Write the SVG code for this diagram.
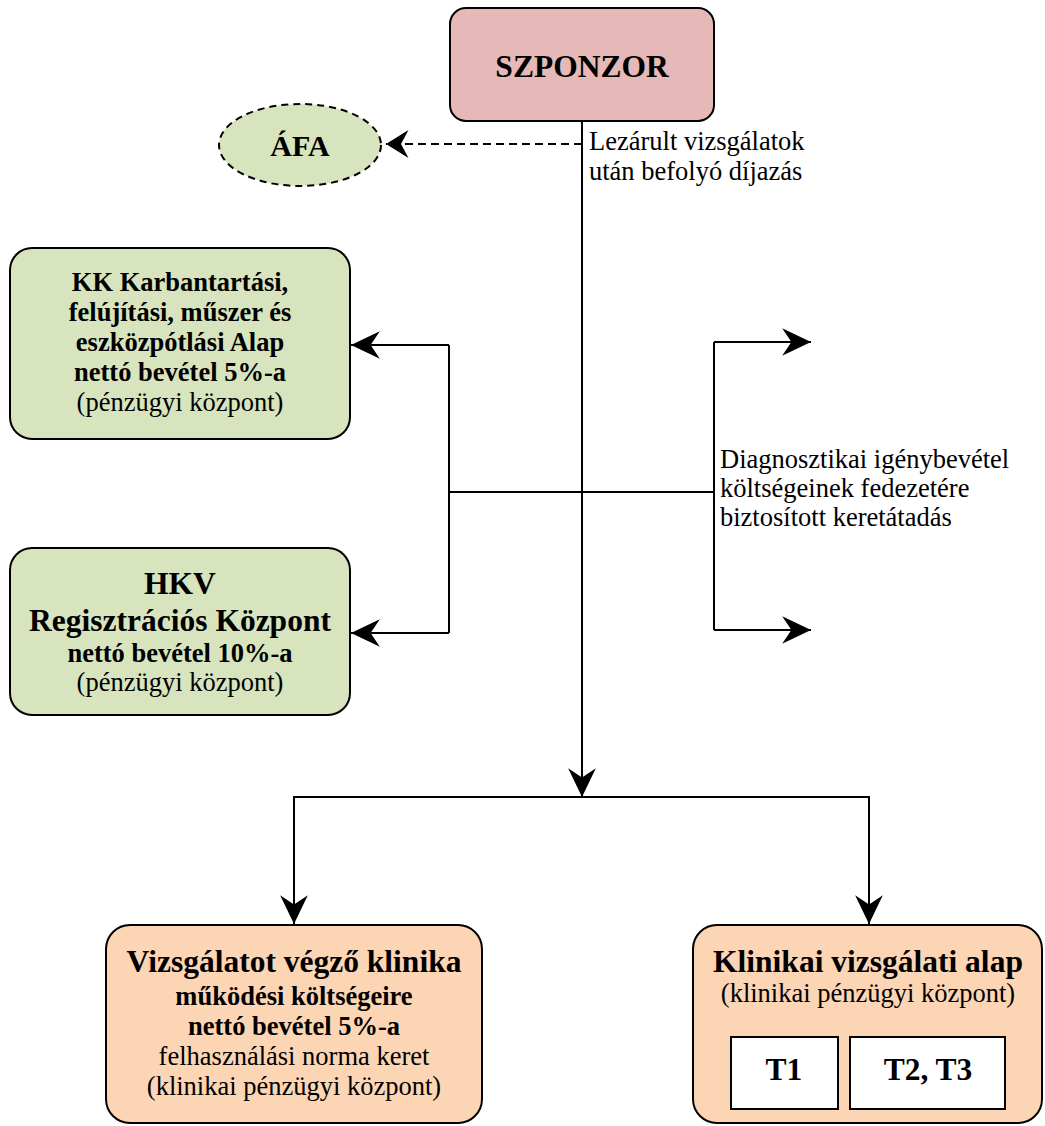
<svg xmlns="http://www.w3.org/2000/svg" width="1045" height="1126" viewBox="0 0 1045 1126">
<style>
.box{stroke:#000;stroke-width:2}
.pink{fill:#e6b9b8}
.green{fill:#d7e4bd}
.peach{fill:#fcd5b5}
.white{fill:#fff}
text{font-family:"Liberation Serif","Times New Roman",serif;fill:#000}
.c{text-anchor:middle}
.b{font-weight:bold}
.n{font-size:26.5px}
.l{font-size:31.5px}
.conn{fill:none;stroke:#000;stroke-width:2}
</style>
<defs>
<marker id="arr" markerUnits="userSpaceOnUse" markerWidth="30" markerHeight="30" viewBox="0 0 26 26" refX="25" refY="13" orient="auto">
<path d="M25,13 L0,1 L8,13 L0,25 Z" fill="#000"/>
</marker>
<marker id="arrs" markerUnits="userSpaceOnUse" markerWidth="30" markerHeight="30" viewBox="0 0 26 28" refX="21" refY="14" orient="auto">
<path d="M21,14 L0,1 L7,14 L0,27 Z" fill="#000"/>
</marker>
</defs>

<g id="connectors">
<path class="conn" d="M582,121 V797" marker-end="url(#arr)"/>
<path class="conn" d="M582,144 H386" stroke-dasharray="8,5" marker-end="url(#arrs)"/>
<path class="conn" d="M294,924 V797 H869 V924" />
<path class="conn" d="M294,797 V924" marker-end="url(#arr)"/>
<path class="conn" d="M869,797 V924" marker-end="url(#arr)"/>
<path class="conn" d="M449,492 H714"/>
<path class="conn" d="M449,345 V633"/>
<path class="conn" d="M449,345 H351" marker-end="url(#arr)"/>
<path class="conn" d="M449,633 H351" marker-end="url(#arr)"/>
<path class="conn" d="M714,342 V630"/>
<path class="conn" d="M714,342 H811" marker-end="url(#arr)"/>
<path class="conn" d="M714,630 H811" marker-end="url(#arr)"/>
<text class="n" x="589" y="150">Lezárult vizsgálatok</text>
<text class="n" x="589" y="180">után befolyó díjazás</text>
<text class="n" x="720" y="468">Diagnosztikai igénybevétel</text>
<text class="n" x="720" y="497">költségeinek fedezetére</text>
<text class="n" x="720" y="526">biztosított keretátadás</text>
</g>

<g id="szponzor">
<rect class="box pink" x="450" y="8" width="264" height="113" rx="16"/>
<text class="c b l" x="582" y="77">SZPONZOR</text>
</g>

<g id="afa">
<ellipse class="green" cx="300" cy="145" rx="81" ry="41" stroke="#000" stroke-width="2" stroke-dasharray="7,5"/>
<text class="c b" x="300" y="156" font-size="30">ÁFA</text>
</g>

<g id="kk-alap">
<rect class="box green" x="10" y="248" width="340" height="191" rx="22"/>
<text class="c b n" x="180" y="291">KK Karbantartási,</text>
<text class="c b n" x="180" y="321">felújítási, műszer és</text>
<text class="c b n" x="180" y="351">eszközpótlási Alap</text>
<text class="c b n" x="180" y="381">nettó bevétel 5%-a</text>
<text class="c n" x="180" y="411">(pénzügyi központ)</text>
</g>

<g id="hkv">
<rect class="box green" x="10" y="548" width="340" height="167" rx="22"/>
<text class="c b l" x="180" y="594">HKV</text>
<text class="c b l" x="180" y="631">Regisztrációs Központ</text>
<text class="c b n" x="180" y="662">nettó bevétel 10%-a</text>
<text class="c n" x="180" y="691">(pénzügyi központ)</text>
</g>

<g id="klinika">
<rect class="box peach" x="106" y="925" width="376" height="198" rx="24"/>
<text class="c b l" x="294" y="972">Vizsgálatot végző klinika</text>
<text class="c b n" x="294" y="1005">működési költségeire</text>
<text class="c b n" x="294" y="1035">nettó bevétel 5%-a</text>
<text class="c n" x="294" y="1065">felhasználási norma keret</text>
<text class="c n" x="294" y="1095">(klinikai pénzügyi központ)</text>
</g>

<g id="alap">
<rect class="box peach" x="693" y="925" width="349" height="198" rx="24"/>
<text class="c b l" x="868" y="972">Klinikai vizsgálati alap</text>
<text class="c n" x="868" y="1002">(klinikai pénzügyi központ)</text>
<g id="t1">
<rect class="box white" x="731" y="1037" width="107" height="72"/>
<text class="c b l" x="784" y="1080">T1</text>
</g>
<g id="t23">
<rect class="box white" x="850" y="1037" width="155" height="72"/>
<text class="c b l" x="928" y="1080">T2, T3</text>
</g>
</g>
</svg>
